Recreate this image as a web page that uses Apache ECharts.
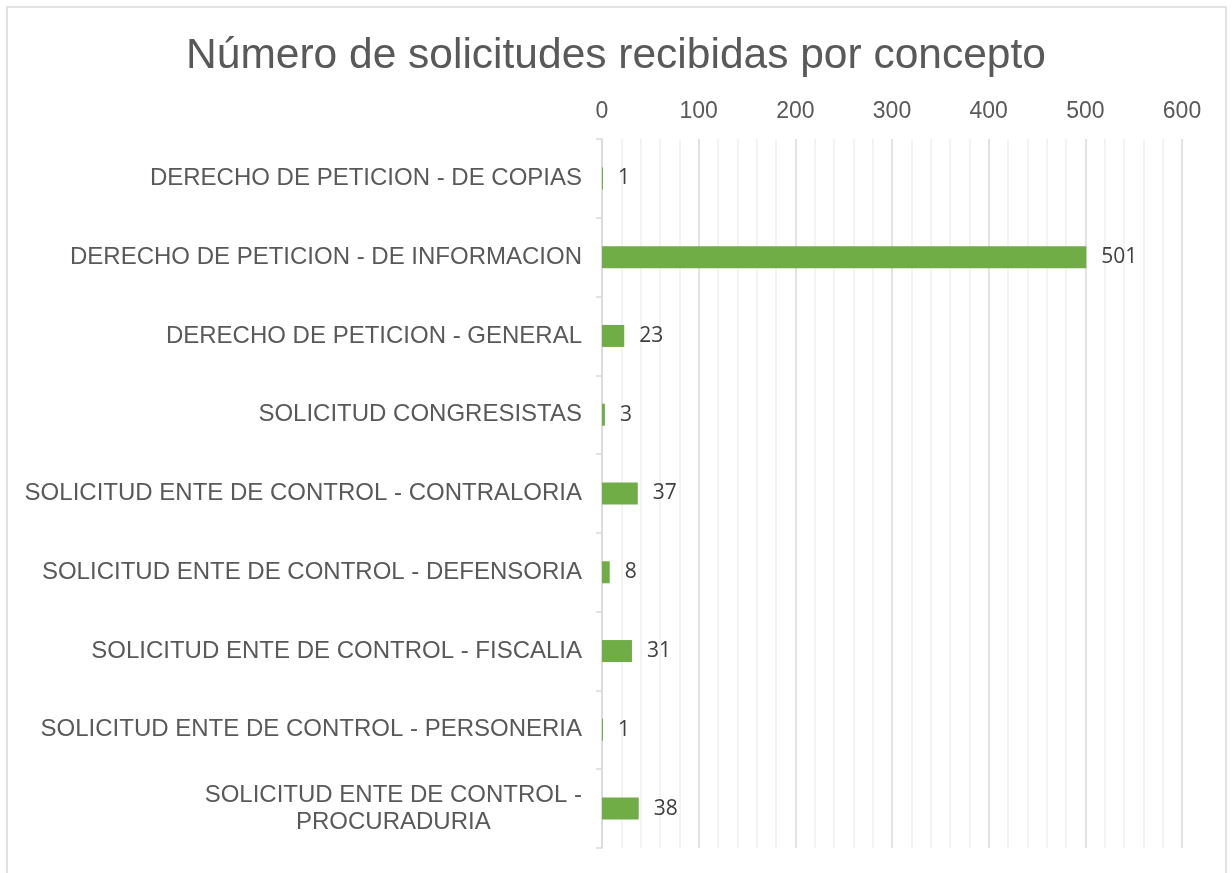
<!DOCTYPE html>
<html>
<head>
<meta charset="utf-8">
<script src="https://cdn.jsdelivr.net/npm/echarts@6/dist/echarts.min.js"></script>
<style>
  html, body { margin: 0; padding: 0; background: #fff; }
  #chart { width: 1232px; height: 873px; }
</style>
</head>
<body>
<div id="chart"></div>
<script>
// datos
const categorias = [
  'DERECHO DE PETICION - DE COPIAS',
  'DERECHO DE PETICION - DE INFORMACION',
  'DERECHO DE PETICION - GENERAL',
  'SOLICITUD CONGRESISTAS',
  'SOLICITUD ENTE DE CONTROL - CONTRALORIA',
  'SOLICITUD ENTE DE CONTROL - DEFENSORIA',
  'SOLICITUD ENTE DE CONTROL - FISCALIA',
  'SOLICITUD ENTE DE CONTROL - PERSONERIA',
  'SOLICITUD ENTE DE CONTROL - PROCURADURIA'
];
const solicitudes = [1, 501, 23, 3, 37, 8, 31, 1, 38];
const ejeMin = 0;
const ejeMax = 600;
const ejePaso = 100;

const myChart = echarts.init(document.getElementById('chart'));

// la etiqueta larga se parte en dos lineas centradas
const partirEtiqueta = (txt) => {
  if (txt.length > 39) {
    const corte = txt.lastIndexOf(' - ') + 2;
    return '{c|' + txt.slice(0, corte) + '}\n{c|' + txt.slice(corte + 1) + '}';
  }
  return txt;
};

myChart.setOption({
  animation: false,
  backgroundColor: '#fff',
  title: {
    text: 'Número de solicitudes recibidas por concepto',
    left: 'center',
    top: 30,
    textStyle: {
      fontFamily: 'Liberation Sans',
      fontSize: 42.5,
      fontWeight: 'normal',
      color: '#595959'
    }
  },
  graphic: [{
    type: 'rect',
    shape: { x: 7, y: 7, width: 1219, height: 900 },
    style: { fill: null, stroke: '#D9D9D9', lineWidth: 1.5 },
    silent: true
  }],
  grid: {
    left: 602,
    right: 50,
    top: 139,
    bottom: 25
  },
  xAxis: {
    type: 'value',
    position: 'top',
    min: ejeMin,
    max: ejeMax,
    interval: ejePaso,
    axisLine: { show: false },
    axisTick: { show: false },
    axisLabel: {
      margin: 16,
      fontFamily: 'Liberation Sans',
      fontSize: 23,
      color: '#595959'
    },
    splitLine: { show: true, lineStyle: { color: '#D9D9D9', width: 1.5 } },
    minorTick: { show: false, splitNumber: 5 },
    minorSplitLine: { show: true, lineStyle: { color: '#F0F0F0', width: 1.5 } }
  },
  yAxis: {
    type: 'category',
    inverse: true,
    data: categorias,
    axisLine: { show: true, lineStyle: { color: '#D9D9D9', width: 1.5 } },
    axisTick: { show: true, length: 6, lineStyle: { color: '#D9D9D9', width: 1.5 } },
    axisLabel: {
      margin: 20,
      fontFamily: 'Liberation Sans',
      fontSize: 24,
      color: '#595959',
      lineHeight: 27,
      formatter: partirEtiqueta,
      rich: {
        c: {
          align: 'center',
          fontFamily: 'Liberation Sans',
          fontSize: 24,
          color: '#595959',
          lineHeight: 27
        }
      }
    }
  },
  series: [{
    type: 'bar',
    data: solicitudes,
    barWidth: 22,
    itemStyle: { color: '#70AD47' },
    label: {
      show: true,
      position: 'right',
      distance: 15,
      fontFamily: 'Open Sans',
      fontSize: 21,
      color: '#404040'
    }
  }]
});
</script>
</body>
</html>
